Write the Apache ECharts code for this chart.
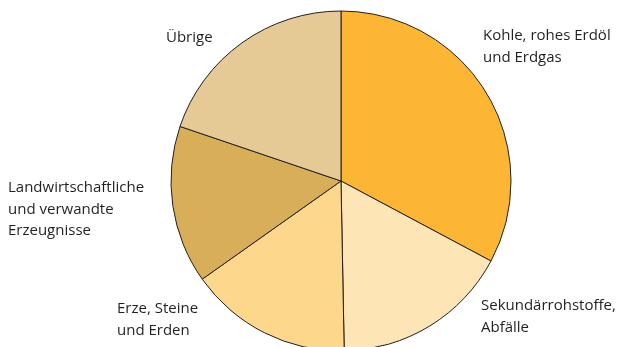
<!DOCTYPE html>
<html>
<head>
<meta charset="utf-8">
<script src="https://cdn.jsdelivr.net/npm/echarts@6/dist/echarts.min.js"></script>
<style>html,body{margin:0;padding:0;background:#fff;}#c{width:621px;height:347px;}</style>
</head>
<body>
<div id="c"></div>
<script>
const categories = ["Kohle, rohes Erdöl\nund Erdgas", "Sekundärrohstoffe,\nAbfälle", "Erze, Steine\nund Erden", "Landwirtschaftliche\nund verwandte\nErzeugnisse", "Übrige"];
const values = [32.8, 16.9, 15.5, 15.0, 19.8];
const colors = ["#FCB633", "#FEE5B6", "#FDD78C", "#D9AE58", "#E6CA96"];
const labelPos = [[483, 25], [481, 295], [117, 298], [8, 177], [166, 27]];

const chart = echarts.init(document.getElementById('c'), null, {renderer: 'canvas'});
chart.setOption({
  animation: false,
  series: [{
    type: 'pie',
    center: [341, 181],
    radius: [0, 170],
    startAngle: 90,
    clockwise: true,
    data: categories.map((c, i) => ({name: c, value: values[i], itemStyle: {color: colors[i]}})),
    itemStyle: {borderColor: '#231F20', borderWidth: 1},
    label: {
      show: true, position: 'outside', formatter: '{b}', overflow: 'none', width: 200,
      color: '#231F20', fontFamily: 'Open Sans', fontSize: 15, lineHeight: 21.5
    },
    labelLine: {show: false},
    labelLayout: function (p) {
      const xy = labelPos[p.dataIndex];
      return {x: xy[0], y: xy[1], align: 'left', verticalAlign: 'top'};
    },
    emphasis: {disabled: true}
  }]
});
</script>
</body>
</html>
